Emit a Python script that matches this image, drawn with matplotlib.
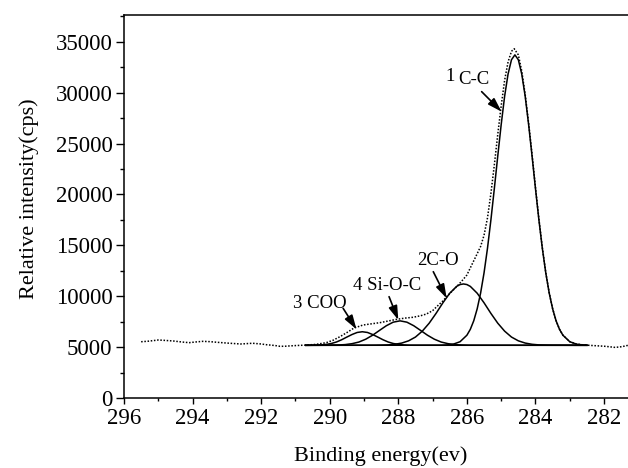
import matplotlib
matplotlib.use("Agg")
import matplotlib.pyplot as plt
from matplotlib.ticker import MultipleLocator

plt.rcParams['font.family'] = ['Liberation Serif', 'DejaVu Serif']

# ---------------- data ----------------
# Measured envelope (dotted)
env_x = [295.5, 295.3, 295.0, 294.8, 294.55, 294.3, 294.1, 293.9, 293.7, 293.5,
         293.3, 293.0, 292.6, 292.25, 292.0, 291.85, 291.6, 291.45, 291.3, 291.07,
         290.9, 290.7, 290.4, 290.1, 289.9, 289.7, 289.5, 289.3, 289.03, 288.8,
         288.54, 288.3, 288.05, 287.8, 287.57, 287.35, 287.18, 287.0, 286.88, 286.7,
         286.59, 286.45, 286.3, 286.15, 286.0, 285.85, 285.72, 285.6, 285.5, 285.4,
         285.3, 285.2, 285.1, 285.0, 284.9, 284.8, 284.7, 284.62, 284.5, 284.4,
         284.3, 284.2, 284.1, 284.0, 283.9, 283.8, 283.7, 283.6, 283.5, 283.4,
         283.3, 283.2, 283.0, 282.8, 282.6, 282.4, 282.2, 282.0, 281.85, 281.7,
         281.55, 281.4, 281.3]
env_y = [5550, 5600, 5720, 5680, 5620, 5520, 5460, 5530, 5590, 5560,
         5500, 5420, 5330, 5400, 5330, 5260, 5180, 5100, 5110, 5160,
         5190, 5220, 5290, 5460, 5700, 6050, 6450, 6880, 7190, 7300,
         7420, 7580, 7750, 7870, 7950, 8100, 8270, 8600, 8990, 9550,
         9970, 10450, 10950, 11500, 12100, 13150, 14050, 14900, 16000, 17700,
         20100, 22900, 25900, 28700, 31200, 33000, 34050, 34300, 33700, 32100,
         29800, 27000, 23950, 20700, 17600, 14780, 12350, 10360, 8800, 7620,
         6780, 6200, 5560, 5320, 5240, 5190, 5150, 5110, 5060, 5000,
         5030, 5120, 5200]

# Peak 1: C-C
cc_x = [290.7, 286.8, 286.6, 286.4, 286.2, 286.0, 285.9, 285.8, 285.7, 285.6,
        285.5, 285.4, 285.3, 285.2, 285.1, 285.0, 284.9, 284.8, 284.7, 284.6,
        284.5, 284.4, 284.3, 284.2, 284.1, 284.0, 283.9, 283.8, 283.7, 283.6,
        283.5, 283.4, 283.3, 283.2, 283.0, 282.8, 282.6, 282.5]
cc_y = [5200, 5210, 5230, 5310, 5550, 6190, 6770, 7610, 8780, 10330,
        12310, 14710, 17500, 20570, 23770, 26860, 29630, 31810, 33220, 33700,
        33220, 31810, 29630, 26860, 23770, 20570, 17500, 14710, 12310, 10330,
        8780, 7610, 6770, 6190, 5550, 5310, 5230, 5210]

# Peak 2: C-O
co_x = [290.7, 288.7, 288.5, 288.3, 288.1, 287.9, 287.7, 287.5, 287.3, 287.1,
        286.9, 286.7, 286.5, 286.3, 286.2, 286.1, 286.0, 285.9, 285.7, 285.5,
        285.3, 285.1, 284.9, 284.7, 284.5, 284.3, 284.1, 283.9, 283.7, 283.5,
        282.5]
co_y = [5200, 5210, 5220, 5240, 5300, 5420, 5640, 6010, 6590, 7370,
        8330, 9370, 10310, 10980, 11160, 11220, 11160, 10980, 10310, 9370,
        8330, 7370, 6590, 6010, 5640, 5420, 5300, 5240, 5220, 5210,
        5200]

# Peak 4: Si-O-C
sioc_x = [290.7, 289.95, 289.75, 289.55, 289.35, 289.15, 288.95, 288.75, 288.55, 288.35,
          288.15, 287.95, 287.75, 287.55, 287.35, 287.15, 286.95, 286.75, 286.55, 286.35,
          286.15, 285.95, 282.5]
sioc_y = [5200, 5210, 5230, 5270, 5360, 5520, 5800, 6190, 6660, 7120,
          7470, 7600, 7470, 7120, 6660, 6190, 5800, 5520, 5360, 5270,
          5230, 5210, 5200]

# Peak 3: COO
coo_x = [290.7, 290.55, 290.4, 290.25, 290.1, 289.95, 289.8, 289.65, 289.5, 289.35,
         289.2, 289.05, 288.9, 288.75, 288.6, 288.45, 288.3, 288.15, 288.0, 287.85,
         287.7, 287.55, 282.5]
coo_y = [5200, 5205, 5210, 5240, 5290, 5380, 5530, 5750, 6010, 6260,
         6460, 6530, 6460, 6260, 6010, 5750, 5530, 5380, 5290, 5240,
         5210, 5205, 5200]

x_ticks = [296, 294, 292, 290, 288, 286, 284, 282]
y_ticks = [0, 5000, 10000, 15000, 20000, 25000, 30000, 35000]

# ---------------- figure ----------------
W, H = 628, 468
fig = plt.figure(figsize=(W / 100, H / 100), dpi=100)
ax_left = 124 / W
ax_bottom = (H - 398.3) / H
ax_w = 15 * 34.29 / W
ax_h = (398.3 - 14.7) / H
ax = fig.add_axes([ax_left, ax_bottom, ax_w, ax_h])

ax.plot(env_x, env_y, color='black', lw=1.1, linestyle=(0, (1, 1.1)))
for xs, ys in [(cc_x, cc_y), (co_x, co_y), (sioc_x, sioc_y), (coo_x, coo_y)]:
    ax.plot(xs, ys, color='black', lw=1.1)

ax.set_xlim(296, 281)
ax.set_ylim(0, 37640)
ax.set_xticks(x_ticks)
ax.set_xticklabels([str(t) for t in x_ticks])
ax.set_yticks(y_ticks)
ax.set_yticklabels([str(t) for t in y_ticks])
ax.xaxis.set_minor_locator(MultipleLocator(1))
ax.yaxis.set_minor_locator(MultipleLocator(2500))

ax.tick_params(axis='both', which='both', direction='out', width=1.0,
               labelsize=16.5, top=False, right=False)
ax.tick_params(axis='x', which='major', length=4.3, pad=3)
ax.tick_params(axis='x', which='minor', length=2.5)
ax.tick_params(axis='y', which='major', length=5.8, pad=2.5)
ax.tick_params(axis='y', which='minor', length=3.2)

for s in ax.spines.values():
    s.set_linewidth(1.1)

ax.set_xlabel('Binding energy(ev)', fontsize=16)
ax.set_ylabel('Relative intensity(cps)', fontsize=16)
ax.xaxis.set_label_coords(0.4996, -0.125)
ax.yaxis.set_label_coords(-0.166, 0.521)

arrow = dict(arrowstyle='-|>,head_length=0.7,head_width=0.22', color='black',
             lw=1.2, shrinkA=0, shrinkB=0, mutation_scale=12)

fs = 13.5
ax.text(286.48, 31600, '1', fontsize=fs, ha='center', va='center')
ax.text(285.80, 31330, 'C-C', fontsize=fs, ha='center', va='center')
ax.annotate('', xy=(284.99, 28130), xytext=(285.57, 30090), arrowprops=arrow)

ax.text(286.84, 13570, '2C-O', fontsize=fs, ha='center', va='center')
ax.annotate('', xy=(286.59, 9810), xytext=(286.98, 12420), arrowprops=arrow)

ax.text(288.33, 11070, '4 Si-O-C', fontsize=fs, ha='center', va='center')
ax.annotate('', xy=(288.0, 7680), xytext=(288.27, 9970), arrowprops=arrow)

ax.text(290.30, 9300, '3 COO', fontsize=fs, ha='center', va='center')
ax.annotate('', xy=(289.22, 6770), xytext=(289.61, 8830), arrowprops=arrow)

fig.savefig('out.png', dpi=100)
